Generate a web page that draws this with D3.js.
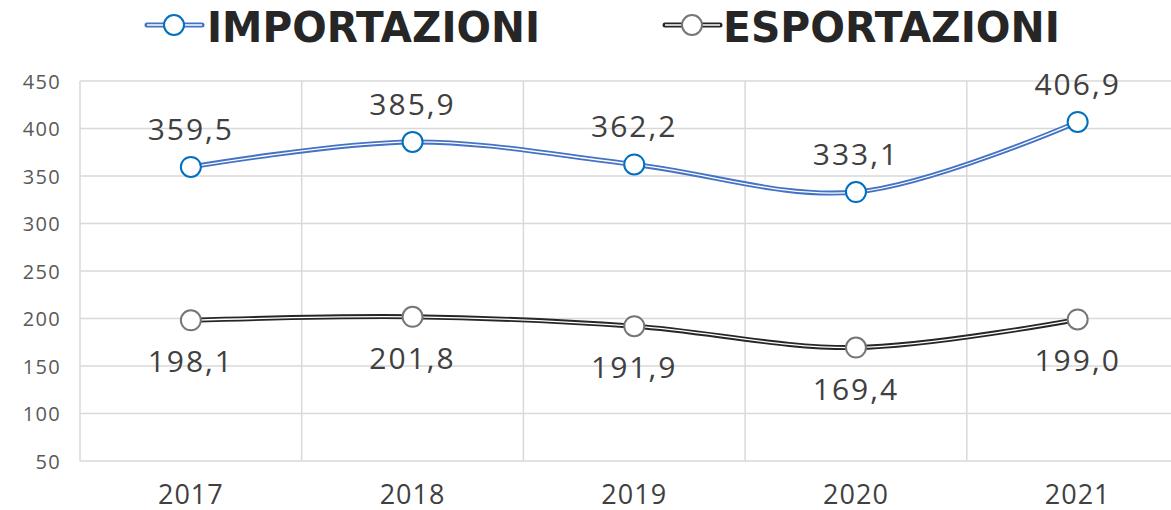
<!DOCTYPE html>
<html lang="it">
<head>
<meta charset="utf-8">
<title>Importazioni / Esportazioni</title>
<script src="https://cdn.jsdelivr.net/npm/d3@7"></script>
<style>
  body { margin: 0; background: #fff; }
  svg text { font-family: "Open Sans", "Noto Sans", sans-serif; }
</style>
</head>
<body>
<script>
// data
var years = ["2017", "2018", "2019", "2020", "2021"];
var importazioni = [359.5, 385.9, 362.2, 333.1, 406.9];
var esportazioni = [198.1, 201.8, 191.9, 169.4, 199.0];
var yTicks = [50, 100, 150, 200, 250, 300, 350, 400, 450];

var w = 1171, h = 510;
var plotLeft = 80, plotTop = 81, plotBottom = 461;
var band = 221.7;

var svg = d3.select("body").append("svg")
    .attr("width", w)
    .attr("height", h);

var x = d3.scaleBand().domain(years).range([plotLeft, plotLeft + band * years.length]);
var y = d3.scaleLinear().domain([50, 450]).range([plotBottom, plotTop]);

// horizontal grid
svg.append("g")
    .selectAll("line")
    .data(yTicks)
    .enter().append("line")
    .attr("x1", plotLeft).attr("x2", w)
    .attr("y1", function (d) { return y(d); })
    .attr("y2", function (d) { return y(d); })
    .attr("stroke", "#d9d9d9")
    .attr("stroke-width", 1.5);

// vertical grid (category boundaries)
svg.append("g")
    .selectAll("line")
    .data(years)
    .enter().append("line")
    .attr("x1", function (d) { return x(d); })
    .attr("x2", function (d) { return x(d); })
    .attr("y1", plotTop).attr("y2", plotBottom)
    .attr("stroke", "#d9d9d9")
    .attr("stroke-width", 1.5);

// y tick labels
svg.append("g")
    .selectAll("text")
    .data(yTicks)
    .enter().append("text")
    .attr("x", 61)
    .attr("y", function (d) { return y(d) + 7.5; })
    .attr("text-anchor", "end")
    .attr("font-size", "20px")
    .attr("letter-spacing", "1.3px")
    .attr("fill", "#595959")
    .text(function (d) { return d; });

// x labels
svg.append("g")
    .selectAll("text")
    .data(years)
    .enter().append("text")
    .attr("x", function (d) { return x(d) + x.bandwidth() / 2; })
    .attr("y", 504)
    .attr("text-anchor", "middle")
    .attr("font-size", "27px")
    .attr("letter-spacing", "1px")
    .attr("fill", "#404040")
    .text(function (d) { return d; });

var line = d3.line()
    .x(function (d, i) { return x(years[i]) + x.bandwidth() / 2; })
    .y(function (d) { return y(d); })
    .curve(d3.curveCatmullRom.alpha(0.5));

function drawSeries(values, color, markerColor, labelDy) {
    var g = svg.append("g");
    g.append("path").datum(values)
        .attr("d", line).attr("fill", "none")
        .attr("stroke", color).attr("stroke-width", 5);
    g.append("path").datum(values)
        .attr("d", line).attr("fill", "none")
        .attr("stroke", "#fff").attr("stroke-width", 1.3);
    g.selectAll("circle")
        .data(values)
        .enter().append("circle")
        .attr("cx", function (d, i) { return x(years[i]) + x.bandwidth() / 2; })
        .attr("cy", function (d) { return y(d); })
        .attr("r", 10)
        .attr("fill", "#fff")
        .attr("stroke", markerColor)
        .attr("stroke-width", 2);
    g.selectAll("text")
        .data(values)
        .enter().append("text")
        .attr("x", function (d, i) { return x(years[i]) + x.bandwidth() / 2; })
        .attr("y", function (d) { return y(d) + labelDy; })
        .attr("text-anchor", "middle")
        .attr("font-size", "30px")
        .attr("letter-spacing", "2px")
        .attr("fill", "#404040")
        .text(function (d) { return d.toFixed(1).replace(".", ","); });
}

drawSeries(importazioni, "#4472c4", "#0070c0", -27);
drawSeries(esportazioni, "#262626", "#767676", 52);

// legend
var legend = [
    { name: "IMPORTAZIONI", color: "#4472c4", marker: "#0070c0", x: 147, tx: 207, tw: 333 },
    { name: "ESPORTAZIONI", color: "#262626", marker: "#767676", x: 665, tx: 723, tw: 337 }
];
var lg = svg.append("g").selectAll("g").data(legend).enter().append("g");
lg.append("line")
    .attr("x1", function (d) { return d.x; })
    .attr("x2", function (d) { return d.x + 55; })
    .attr("y1", 25).attr("y2", 25)
    .attr("stroke", function (d) { return d.color; })
    .attr("stroke-width", 5)
    .attr("stroke-linecap", "round");
lg.append("line")
    .attr("x1", function (d) { return d.x; })
    .attr("x2", function (d) { return d.x + 55; })
    .attr("y1", 25).attr("y2", 25)
    .attr("stroke", "#fff")
    .attr("stroke-width", 1.3);
lg.append("circle")
    .attr("cx", function (d) { return d.x + 27; })
    .attr("cy", 25)
    .attr("r", 10)
    .attr("fill", "#fff")
    .attr("stroke", function (d) { return d.marker; })
    .attr("stroke-width", 2);
lg.append("text")
    .attr("x", function (d) { return d.tx; })
    .attr("y", 42)
    .attr("font-size", "42px")
    .attr("font-weight", "bold")
    .attr("fill", "#262626")
    .attr("textLength", function (d) { return d.tw; })
    .attr("lengthAdjust", "spacingAndGlyphs")
    .style("font-family", "'DejaVu Sans', sans-serif")
    .text(function (d) { return d.name; });
</script>
</body>
</html>
